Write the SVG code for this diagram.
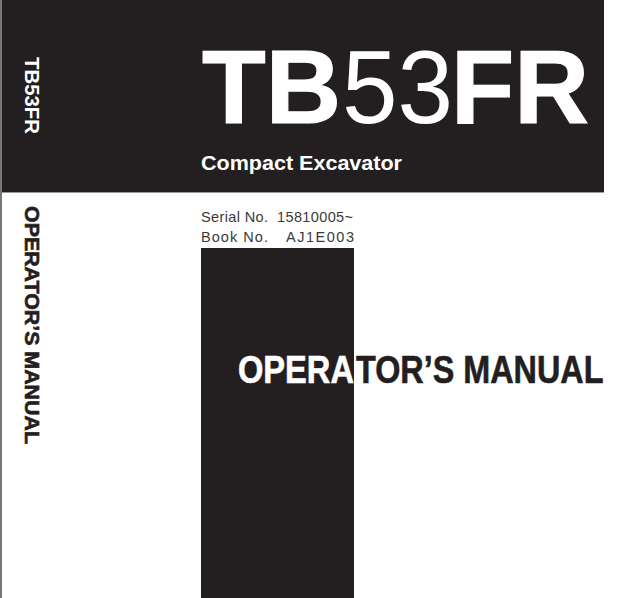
<svg xmlns="http://www.w3.org/2000/svg" width="629" height="598" viewBox="0 0 629 598">
<style>
text{font-family:"Liberation Sans",Arial,sans-serif}
.b{font-weight:700}
.w{fill:#fff}
.d{fill:#231f20}
.h{stroke-width:.6px}
.hw{stroke:#fff}
.hd{stroke:#231f20}
.t{stroke:#fff;stroke-width:1.2px}
.s{font-size:14.5px;fill:#3a3a3a}
</style>
<rect width="629" height="598" fill="#fff"/>
<rect x="0" y="0" width="604" height="192" fill="#231f20"/>
<rect x="0" y="192" width="604" height="1" fill="#9a9a9a"/>
<rect x="0" y="0" width="2" height="598" fill="#777"/>
<rect x="201" y="248" width="153" height="350" fill="#231f20"/>
<text class="b w t" x="202" y="123" font-size="104" textLength="139" lengthAdjust="spacingAndGlyphs">TB</text>
<text class="w" x="342" y="123" font-size="104" textLength="111" lengthAdjust="spacingAndGlyphs">53</text>
<text class="b w t" x="451" y="123" font-size="104" textLength="138" lengthAdjust="spacingAndGlyphs">FR</text>
<text class="b w" x="201" y="169.500" font-size="21" textLength="201" lengthAdjust="spacingAndGlyphs">Compact Excavator</text>
<text class="s" x="201" y="222" textLength="67">Serial No.</text>
<text class="s" x="277" y="222" textLength="76">15810005~</text>
<text class="s" x="201" y="242" textLength="67">Book No.</text>
<text class="s" x="286" y="242" textLength="68">AJ1E003</text>
<text class="b w" x="0" y="0" font-size="20" transform="translate(25 57) rotate(90)" textLength="77" lengthAdjust="spacingAndGlyphs">TB53FR</text>
<text class="b d h hd" x="0" y="0" font-size="20" transform="translate(25 206) rotate(90)" textLength="238" lengthAdjust="spacingAndGlyphs">OPERATOR’S MANUAL</text>
<text class="b w h hw" font-size="39" transform="translate(238 383) scale(.836 1)">OPERA</text>
<text class="b d h hd" font-size="39" transform="translate(356 383) scale(.83 1)">TOR’S MANUAL</text>
</svg>
